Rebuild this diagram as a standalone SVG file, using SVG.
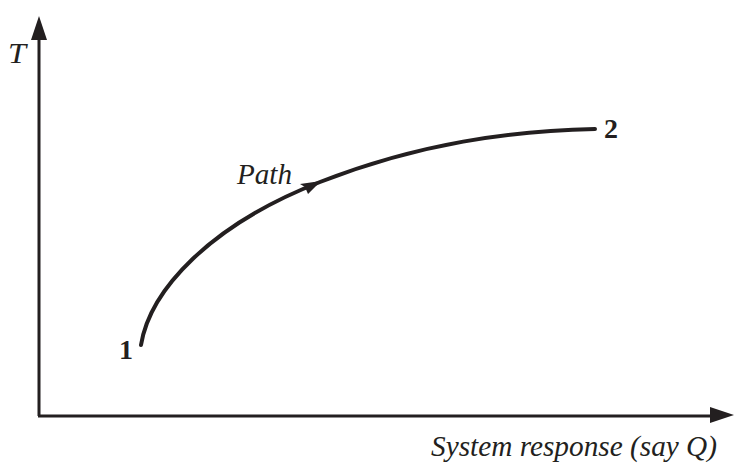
<svg xmlns="http://www.w3.org/2000/svg" width="754" height="473" viewBox="0 0 754 473">
<defs>
<style>
.ax{stroke:#231f20;stroke-width:3;fill:none}
.cv{stroke:#231f20;stroke-width:4;fill:none;stroke-linecap:round}
.it{font-family:"Liberation Serif","Times New Roman",serif;font-style:italic;fill:#231f20;font-size:29px}
.bd{font-family:"Liberation Serif","Times New Roman",serif;font-weight:bold;fill:#231f20;font-size:28px}
</style>
</defs>
<g id="axes">
<path class="ax" d="M39,416 V34 M38,416 H716"/>
<polygon points="39,16 31,40 47,40" fill="#231f20"/>
<polygon points="734,415 710,407 710,423" fill="#231f20"/>
</g>
<g id="connectors">
<path class="cv" d="M141,345 C150,290 210,225 320,182 C420,143 510,131 595,129"/>
<polygon points="321,181 300,184 305,187 308,194" fill="#231f20"/>
</g>
<g id="labels">
<text class="it" x="8" y="63" textLength="18" lengthAdjust="spacingAndGlyphs">T</text>
<text class="it" x="237" y="184" textLength="55" lengthAdjust="spacingAndGlyphs">Path</text>
<text class="bd" x="119" y="359">1</text>
<text class="bd" x="604" y="138">2</text>
<text class="it" x="431" y="456" textLength="286" lengthAdjust="spacingAndGlyphs">System response (say Q)</text>
</g>
</svg>
